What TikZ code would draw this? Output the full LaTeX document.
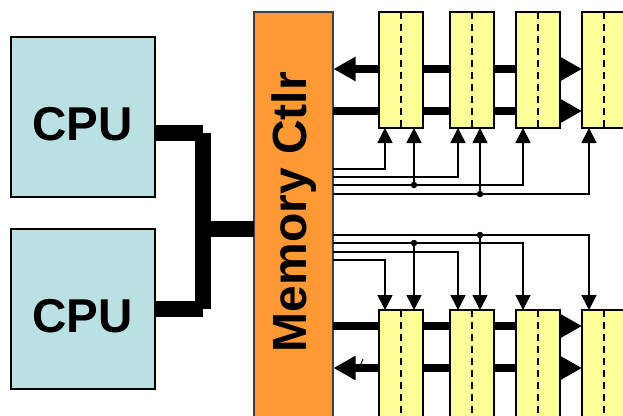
\documentclass[tikz,border=0pt]{standalone}
\usepackage{fontspec}
\setmainfont{Liberation Sans}
\usetikzlibrary{arrows.meta}
\definecolor{cpublue}{HTML}{BBE0E3}
\definecolor{ctlorange}{HTML}{FF9933}
\definecolor{dimmyellow}{HTML}{FFFF99}
\tikzset{
  cpubox/.style={draw=black,line width=2pt,fill=cpublue,minimum width=144pt,minimum height=160pt,inner sep=0pt,outer sep=0pt},
  cpulabel/.style={font=\bfseries\fontsize{47.5}{47.5}\selectfont,inner sep=0pt},
  ctlbox/.style={draw=black!75,line width=1.2pt,fill=ctlorange,minimum width=79pt,minimum height=420pt,inner sep=0pt,outer sep=0pt},
  ctllabel/.style={font=\bfseries\fontsize{48}{48}\selectfont,rotate=90,inner sep=0pt},
  dimmbox/.style={draw=black,line width=2pt,fill=dimmyellow,minimum width=44pt,inner sep=0pt,outer sep=0pt},
  bus/.style={line width=16pt},
  channel/.style={line width=8pt},
  channelhead/.style={line width=8pt,-{Triangle[length=22pt,width=23pt]}},
  sig/.style={line width=1.7pt,-{Triangle[length=15pt,width=15pt]}},
  midline/.style={line width=1.7pt,dash pattern=on 7pt off 5pt},
  junction/.style={circle,fill=black,minimum size=6.5pt,inner sep=0pt},
}
\begin{document}
\begin{tikzpicture}[x=1pt,y=-1pt]
\useasboundingbox (0,0) rectangle (623,415);
\clip (0,0) rectangle (623,415);
% CPUs
\node[cpubox] (cpu1) at (83,116.5) {};
\node[cpubox] (cpu2) at (83,308.5) {};
\node[cpulabel] (cpu1t) at (82.5,124) {CPU};
\node[cpulabel] (cpu2t) at (82.5,316) {CPU};
% controller
\node[ctlbox] (ctl) at (293.5,222) {};
\node[ctllabel] (ctlt) at (294.5,212) {Memory Ctlr};
% CPU bus
\coordinate (joint1) at (203,125);
\coordinate (joint2) at (203,317);
\coordinate (joint3) at (203,229);
\draw[bus] (cpu1.east |- 0,133) -- (joint1 |- 0,133);
\draw[bus] (cpu2.east |- 0,309) -- (joint2 |- 0,309);
\draw[bus] (joint1 |- 0,133) -- (joint2 |- 0,309);
\draw[bus] (joint3) -- (ctl.west |- joint3);
% DIMMs
\foreach \n/\x in {a/401,b/472,c/538,d/604}{
  \node[dimmbox,minimum height=116pt] (t\n) at (\x,70) {};
  \node[dimmbox,minimum height=116pt] (b\n) at (\x,368) {};
}
% thick channels
\coordinate (ty1) at (0,69);
\coordinate (ty2) at (0,111);
\coordinate (by1) at (0,326);
\coordinate (by2) at (0,368);
\foreach \r/\y in {t/ty1,t/ty2,b/by1,b/by2}{
  \draw[channel] (\r a.east |- \y) -- (\r b.west |- \y);
  \draw[channel] (\r b.east |- \y) -- (\r c.west |- \y);
  \draw[channelhead] (\r c.east |- \y) -- (\r d.west |- \y);
}
\coordinate (tipA) at (333.5,69);
\coordinate (tipB) at (333.5,368);
\draw[channelhead] (ta.west |- ty1) -- (tipA);
\draw[channelhead] (ba.west |- by2) -- (tipB);
\draw[channel] (ctl.east |- ty2) -- (ta.west |- ty2);
\draw[channel] (ctl.east |- by1) -- (ba.west |- by1);
\coordinate (tickA) at (360.5,365);
\coordinate (tickB) at (363,359);
\draw[line width=1pt] (tickA) -- (tickB);
% dashed centre lines
\foreach \n in {a,b,c,d}{
  \draw[midline] (t\n.north) -- (t\n.south);
  \draw[midline] (b\n.north) -- (b\n.south);
}
% pins
\foreach \i/\x in {1/385,2/414,3/458,4/480,5/523,6/589}{
  \coordinate (tp\i) at (\x,128);
  \coordinate (bp\i) at (\x,310);
}
\coordinate (tm1) at (333,169);
\coordinate (tm2) at (333,177);
\coordinate (tm3) at (333,185);
\coordinate (tm4) at (333,194);
\coordinate (bm1) at (333,260);
\coordinate (bm2) at (333,252);
\coordinate (bm3) at (333,243);
\coordinate (bm4) at (333,235);
\foreach \r in {t,b}{
  \draw[sig] (\r m1) -| (\r p1);
  \draw[sig] (\r m2) -| (\r p3);
  \draw[sig] (\r m3) -| (\r p5);
  \draw[sig] (\r m4) -| (\r p6);
}
\node[junction] (tj1) at (414,185) {};
\node[junction] (tj2) at (480,194) {};
\node[junction] (bj1) at (414,243) {};
\node[junction] (bj2) at (480,235) {};
\draw[sig] (tj1) -- (tp2);
\draw[sig] (tj2) -- (tp4);
\draw[sig] (bj1) -- (bp2);
\draw[sig] (bj2) -- (bp4);
\end{tikzpicture}
\end{document}
